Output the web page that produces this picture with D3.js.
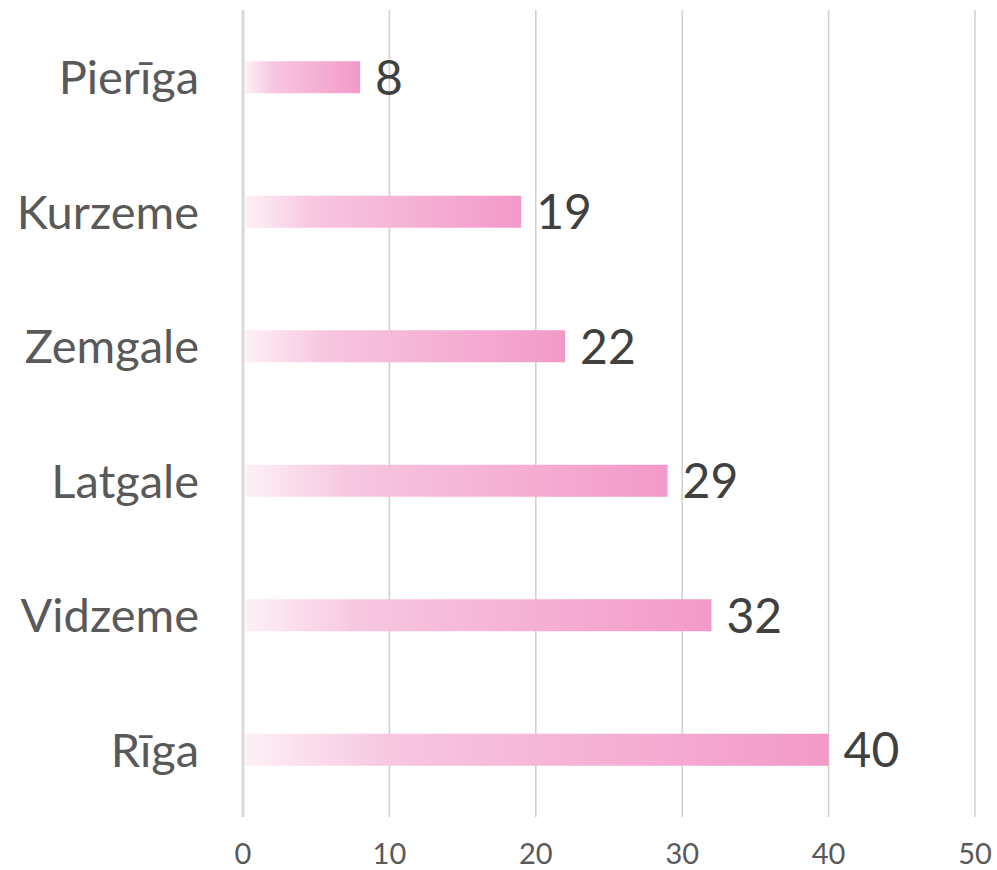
<!DOCTYPE html>
<html lang="en">
  <head>
    <meta charset="utf-8" />
    <script src="https://cdn.jsdelivr.net/npm/d3@7/dist/d3.min.js"></script>
    <style>
      body { margin: 0; background: #fff; }
      text { font-family: Lato, "Open Sans", sans-serif; }
    </style>
  </head>
  <body>
    <div id="container"></div>
    <script>
      const categories = ["Pierīga", "Kurzeme", "Zemgale", "Latgale", "Vidzeme", "Rīga"];
      const values = [8, 19, 22, 29, 32, 40];
      const ticks = [0, 10, 20, 30, 40, 50];

      const width = 997, height = 870;
      const svg = d3.select("#container").append("svg").attr("width", width).attr("height", height);

      const x = d3.scaleLinear().domain([0, 50]).range([243, 975]);
      const y = d3.scaleBand().domain(categories).range([10, 817]).paddingInner(0.762).paddingOuter(0.381);

      const defs = svg.append("defs");
      const grad = defs.append("linearGradient").attr("id", "barGrad").attr("x1", 0).attr("x2", 1).attr("y1", 0).attr("y2", 0);
      grad.append("stop").attr("offset", "0%").attr("stop-color", "#fdf0f6");
      grad.append("stop").attr("offset", "25%").attr("stop-color", "#f7c6e0");
      grad.append("stop").attr("offset", "100%").attr("stop-color", "#f399c8");

      // gridlines
      svg.append("g").selectAll("line").data(ticks.slice(1)).join("line")
        .attr("x1", d => x(d)).attr("x2", d => x(d))
        .attr("y1", 10).attr("y2", 817)
        .attr("stroke", "#d0d0d0").attr("stroke-width", 1.5);

      svg.append("line").attr("x1", x(0)).attr("x2", x(0)).attr("y1", 10).attr("y2", 817)
        .attr("stroke", "#d9d9d9").attr("stroke-width", 3);

      // tick labels
      svg.append("g").selectAll("text").data(ticks).join("text")
        .attr("x", d => x(d)).attr("y", 864)
        .attr("text-anchor", "middle").attr("font-size", 29).attr("fill", "#595959")
        .text(d => d);

      // bars
      svg.append("g").selectAll("rect").data(values).join("rect")
        .attr("x", x(0) + 2).attr("y", (d, i) => y(categories[i]))
        .attr("width", d => x(d) - x(0) - 2).attr("height", y.bandwidth())
        .attr("fill", "url(#barGrad)");

      // value labels
      svg.append("g").selectAll("text").data(values).join("text")
        .attr("x", d => x(d) + 15).attr("y", (d, i) => y(categories[i]) + y.bandwidth() / 2)
        .attr("dy", "0.36em").attr("font-size", 48).attr("fill", "#404040")
        .text(d => d);

      // category labels
      svg.append("g").selectAll("text").data(categories).join("text")
        .attr("x", 199).attr("y", d => y(d) + y.bandwidth() / 2)
        .attr("dy", "0.36em").attr("text-anchor", "end").attr("font-size", 47).attr("fill", "#595959")
        .text(d => d);
    </script>
  </body>
</html>
